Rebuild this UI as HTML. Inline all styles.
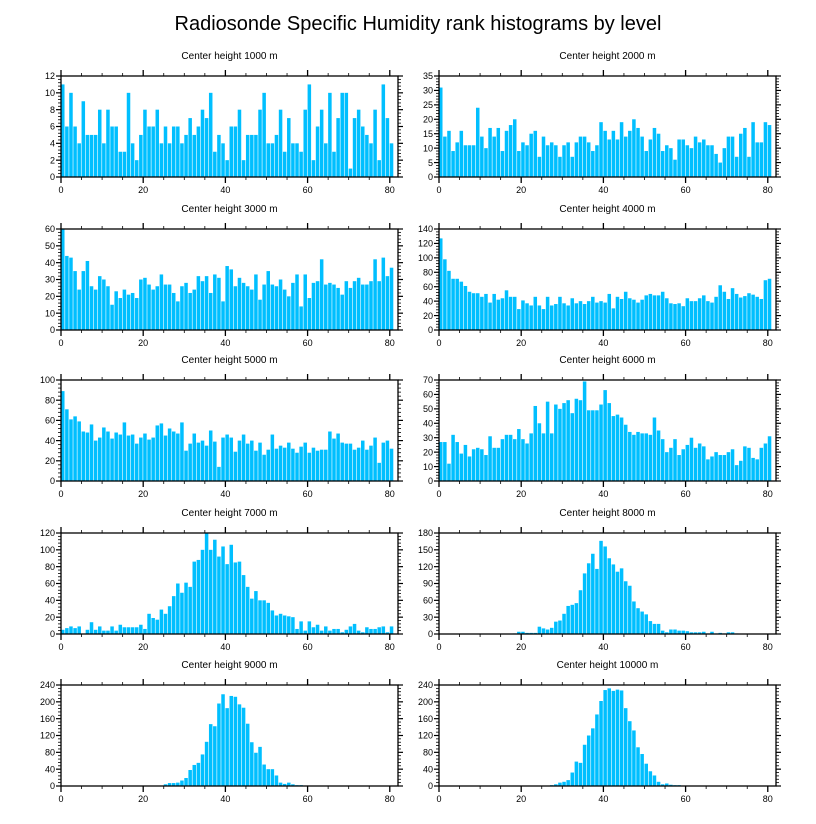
<!DOCTYPE html>
<html><head><meta charset="utf-8">
<style>
html,body{margin:0;padding:0;background:#fff;}
svg{display:block;font-family:"Liberation Sans",sans-serif;}
</style></head>
<body>
<svg id="chart" width="816" height="824" viewBox="0 0 816 824">
<text x="418" y="30" text-anchor="middle" font-size="20" fill="#000">Radiosonde Specific Humidity rank histograms by level</text>
</svg>
<script>
const panelTitles = ["Center height 1000 m","Center height 2000 m","Center height 3000 m","Center height 4000 m","Center height 5000 m","Center height 6000 m","Center height 7000 m","Center height 8000 m","Center height 9000 m","Center height 10000 m"];
const yMaxes = [12,35,60,140,100,70,120,180,240,240];
const yStepsMajor = [2,5,10,20,20,10,20,30,40,40];
const xTicks = [0,20,40,60,80];
const h1000 = [11,6,10,6,4,9,5,5,5,8,4,8,6,6,3,3,10,4,2,5,8,6,6,8,4,6,4,6,6,4,5,7,5,6,8,7,10,3,5,4,2,6,6,8,2,5,5,5,8,10,4,4,5,8,3,7,4,4,3,8,11,2,6,8,4,10,3,7,10,10,1,7,8,6,5,4,8,2,11,7,4];
const h2000 = [31,14,16,9,12,16,11,11,11,24,14,10,17,14,17,9,16,18,20,9,12,11,15,16,7,14,11,12,11,7,11,12,7,12,14,14,12,9,11,19,16,13,16,13,19,14,16,20,17,14,9,13,17,15,9,11,10,6,13,13,11,10,14,12,13,11,11,8,5,10,14,14,7,15,17,7,19,12,12,19,18];
const h3000 = [60,44,43,35,24,35,41,26,24,32,30,26,15,23,19,24,21,22,19,30,31,27,24,26,33,27,27,22,17,26,28,22,24,32,29,32,22,33,31,17,38,36,26,31,28,26,24,33,18,27,35,27,26,30,24,20,28,33,14,33,19,28,29,42,27,28,27,25,21,29,25,29,31,27,27,29,42,29,43,32,37];
const h4000 = [127,98,82,71,71,67,61,53,51,51,46,50,38,50,42,44,55,46,46,29,41,37,34,46,34,29,46,34,36,46,37,34,44,37,40,36,40,46,38,40,38,50,30,46,43,53,44,42,38,42,48,50,48,48,53,44,37,36,37,33,44,40,40,44,48,40,38,46,62,53,43,58,50,45,47,51,49,46,43,69,71];
const h5000 = [89,71,61,64,59,49,48,56,40,43,53,49,42,48,46,58,45,46,37,43,47,41,43,55,57,45,52,49,47,58,30,37,47,38,40,35,50,39,14,43,46,43,29,40,46,37,40,30,38,26,31,46,32,35,33,38,32,28,34,38,28,33,30,31,31,49,42,47,38,37,37,31,33,40,31,35,43,18,38,40,32];
const h6000 = [27,27,12,32,27,19,25,17,22,23,22,18,31,23,23,29,32,32,29,36,29,26,33,52,40,33,55,33,53,50,54,56,47,57,56,69,49,49,49,53,63,54,45,46,44,39,34,32,34,33,33,32,44,35,29,20,23,29,18,22,25,30,23,26,24,15,17,20,18,18,20,22,11,14,24,23,16,15,23,26,31];
const h7000 = [5,7,9,7,9,0,5,14,5,9,4,4,9,4,11,8,8,8,8,11,6,24,19,17,29,24,33,45,60,49,61,56,86,88,100,120,100,112,92,104,83,106,85,86,70,56,42,51,40,40,37,28,22,24,22,21,20,6,15,4,15,8,11,4,9,4,6,6,2,5,9,12,4,2,8,6,6,8,9,2,9];
const h8000 = [0,0,0,0,0,0,0,0,0,0,0,0,0,0,0,0,0,0,1,4,4,2,2,2,13,10,8,11,22,24,36,50,52,55,78,108,126,143,116,166,156,135,124,111,117,94,86,58,46,40,35,23,18,18,6,3,8,8,6,6,5,3,3,3,4,1,4,1,2,1,3,3,1,0,0,0,0,0,0,0,0];
const h9000 = [0,0,0,0,0,0,0,0,0,0,0,0,0,0,0,0,0,0,0,0,1,1,1,1,1,4,7,7,8,13,19,38,50,55,75,105,147,142,196,218,185,214,212,194,186,148,104,79,93,51,40,40,25,8,5,8,4,2,2,1,1,0,1,0,0,0,0,0,0,0,0,0,0,0,0,0,0,0,0,0,0];
const h10000 = [0,0,0,0,0,0,0,0,0,0,0,0,0,0,0,0,0,0,0,0,0,0,0,0,0,1,1,2,4,8,10,14,32,58,55,98,120,137,170,202,228,232,226,229,227,185,154,132,92,76,53,35,25,10,4,6,3,2,2,1,1,1,1,1,0,0,1,0,0,0,0,0,0,0,0,0,0];
const series = [h1000,h2000,h3000,h4000,h5000,h6000,h7000,h8000,h9000,h10000];

const NS = "http://www.w3.org/2000/svg";
const svg = document.getElementById('chart');
const colLeft = [61, 439];
const plotW = 337;
const rowTop = [76, 229, 380, 533, 685];
const plotH = 101;
const XMAX = 82;

function mk(tag, attrs, parent) {
  const e = document.createElementNS(NS, tag);
  for (const k in attrs) e.setAttribute(k, attrs[k]);
  (parent || svg).appendChild(e);
  return e;
}

series.forEach((vals, p) => {
  const L = colLeft[p % 2], T = rowTop[Math.floor(p / 2)], B = T + plotH, R = L + plotW;
  const ymax = yMaxes[p], ystep = yStepsMajor[p];
  const xs = v => L + v / XMAX * plotW;
  const ys = v => B - v / ymax * plotH;
  const g = mk('g', {});
  
  

  const t = mk('text', {x: (L + R) / 2, y: T - 17, 'text-anchor': 'middle', 'font-size': 10, fill: '#000'}, g);
  t.textContent = panelTitles[p];
  
  

  vals.forEach((v, i) => {
    if (v <= 0) return;
    const x0 = xs(i), x1 = xs(i + 1);
    const r = mk('rect', {x: x0, y: ys(v), width: Math.max(0.5, x1 - x0 - 0.6), height: B - ys(v), fill: '#00bfff'}, g);
    
    
  });

  const fr = mk('rect', {x: L, y: T, width: plotW, height: plotH, fill: 'none', stroke: '#000', 'stroke-width': 1.3}, g);
  
  

  // x ticks
  for (let v = 0; v <= XMAX; v += 5) {
    const major = v % 20 === 0;
    const len = major ? 6 : 3;
    const x = xs(v);
    mk('line', {x1: x, y1: B, x2: x, y2: B + len, stroke: '#000', 'stroke-width': major ? 1.3 : 0.8}, g);
    mk('line', {x1: x, y1: T, x2: x, y2: T - len, stroke: '#000', 'stroke-width': major ? 1.3 : 0.8}, g);
  }
  xTicks.forEach(v => {
    const lb = mk('text', {x: xs(v), y: B + 16, 'text-anchor': 'middle', 'font-size': 9, fill: '#000'}, g);
    lb.textContent = v;
    
    
  });
  // y ticks
  const minor = ystep / 5;
  for (let k = 0; k * minor <= ymax + 1e-9; k++) {
    const v = k * minor;
    const major = k % 5 === 0;
    const len = major ? 5 : 3;
    const y = ys(v);
    mk('line', {x1: L, y1: y, x2: L - len, y2: y, stroke: '#000', 'stroke-width': major ? 1.2 : 0.8}, g);
    mk('line', {x1: R, y1: y, x2: R + len, y2: y, stroke: '#000', 'stroke-width': major ? 1.2 : 0.8}, g);
  }
  for (let v = 0; v <= ymax + 1e-9; v += ystep) {
    const lb = mk('text', {x: L - 6, y: ys(v) + 3.2, 'text-anchor': 'end', 'font-size': 9, fill: '#000'}, g);
    lb.textContent = v;
    
    
  }
});
</script>
</body></html>
